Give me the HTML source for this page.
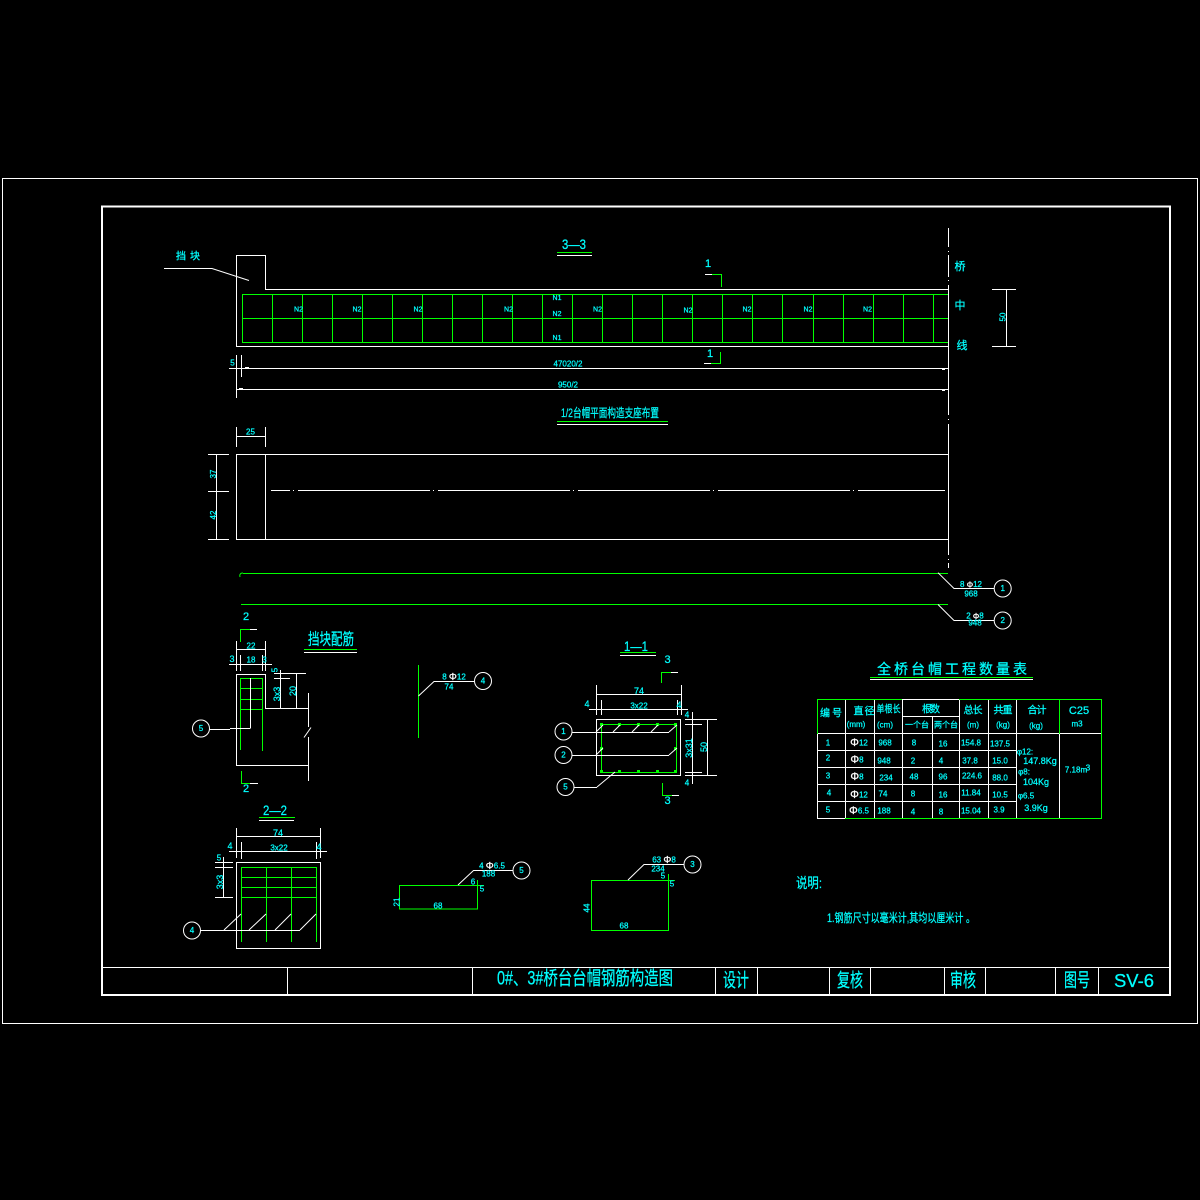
<!DOCTYPE html>
<html lang="zh">
<head>
<meta charset="utf-8">
<title>0#、3#桥台台帽钢筋构造图</title>
<style>
html,body{margin:0;padding:0;background:#000;width:1200px;height:1200px;overflow:hidden}
svg{display:block}
.w{fill:none;stroke:#fff;stroke-width:1;shape-rendering:crispEdges}
.w2{fill:none;stroke:#fff;stroke-width:2;shape-rendering:crispEdges}
.d{fill:none;stroke:#fff;stroke-width:1}
.g{fill:none;stroke:#0f0;stroke-width:1;shape-rendering:crispEdges}
.gd{fill:#0f0;stroke:none}
text{fill:#0ff;stroke:#0ff;stroke-width:.25;font-family:"Liberation Sans","WenQuanYi Zen Hei","Noto Sans CJK SC",sans-serif;text-anchor:middle;dominant-baseline:central}
.t6{font-size:6px}.t7{font-size:7px}.t8{font-size:8px}.t9{font-size:9px}.t10{font-size:10px}.t11{font-size:11px}.t12{font-size:12px}.t13{font-size:13px}.t14{font-size:14px}.t15{font-size:15px}.t16{font-size:16px}.t18{font-size:18px}.t19{font-size:19px}
.phi{fill:#fff;stroke:#fff}
</style>
</head>
<body>
<svg width="1200" height="1200" viewBox="0 0 1200 1200" xmlns="http://www.w3.org/2000/svg">
<rect width="1200" height="1200" fill="#000"/>

<!-- frames -->
<rect class="w" x="2.500" y="178.500" width="1195" height="845"/>
<rect class="w2" x="102" y="206.500" width="1068" height="788.500"/>
<path class="w" d="M102 967.500H1170M287.500 967V995M472.500 967V995M715.500 967V995M757.500 967V995M829.500 967V995M870.500 967V995M944.500 967V995M985.500 967V995M1055.500 967V995M1098.500 967V995"/>
<text class="t19" x="585" y="979" textLength="176" lengthAdjust="spacingAndGlyphs">0#、3#桥台台帽钢筋构造图</text>
<text class="t19" x="736" y="981" textLength="26" lengthAdjust="spacingAndGlyphs">设计</text>
<text class="t19" x="850" y="981" textLength="26" lengthAdjust="spacingAndGlyphs">复核</text>
<text class="t19" x="963" y="981" textLength="26" lengthAdjust="spacingAndGlyphs">审核</text>
<text class="t19" x="1077" y="981" textLength="26" lengthAdjust="spacingAndGlyphs">图号</text>
<text class="t18" x="1134" y="981" textLength="40" lengthAdjust="spacingAndGlyphs">SV-6</text>

<!-- top elevation -->
<text class="t10" x="188" y="257" textLength="24">挡 块</text>
<path class="d" d="M164 268.500H212L249 280.500"/>
<path class="w" d="M236.500 255V346M236 255.500H266M265.500 255V289M265 289.500H948M236 346.500H948"/>
<text class="t14" x="574" y="244" textLength="24" lengthAdjust="spacingAndGlyphs">3—3</text>
<path class="g" d="M557 252.500H592"/><path class="w" d="M557 255.500H592"/>

<path class="g" d="M242.500 294.500H948M242.500 318.500H948M242 342.500H948M242.500 294V343M272.500 294V343M302.500 294V343M332.500 294V343M362.500 294V343M392.500 294V343M422.500 294V343M452.500 294V343M482.500 294V343M512.500 294V343M542.500 294V343M572.500 294V343M602.500 294V343M632.500 294V343M662.500 294V343M692.500 294V343M722.500 294V343M752.500 294V343M782.500 294V343M813.500 294V343M843.500 294V343M873.500 294V343M903.500 294V343M933.500 294V343"/>
<g class="t7">
<text x="298.500" y="310">N2</text><text x="357" y="310">N2</text><text x="418" y="310">N2</text><text x="508.500" y="310">N2</text><text x="597.500" y="310">N2</text><text x="688" y="311">N2</text><text x="747" y="310">N2</text><text x="808" y="310">N2</text><text x="867.500" y="310">N2</text>
<text x="557" y="298.500">N1</text><text x="557" y="314.500">N2</text><text x="557" y="338.500">N1</text>
</g>

<text class="t11" x="708" y="264">1</text>
<path class="g" d="M710 274.500H721.500V287"/><path class="w" d="M705 274.500H712"/>
<text class="t11" x="710" y="354">1</text>
<path class="g" d="M720.500 352V363.500H711"/><path class="w" d="M704 363.500H711"/>

<!-- center line -->
<path class="w" d="M948.500 228V247M948.500 251V252M948.500 255V277M948.500 280V281M948.500 285V415M948.500 419V420M948.500 424V555M948.500 559V560M948.500 563V568"/>
<text class="t11" x="960" y="267">桥</text>
<text class="t11" x="960" y="306">中</text>
<text class="t11" x="962" y="346">线</text>
<path class="w" d="M992 289.500H1016M992 346.500H1016M1006.500 289V346"/>
<text class="t8" transform="translate(1003 317) rotate(-90)">50</text>

<!-- dims under elevation -->
<path class="w" d="M236.500 355V398M241.500 355V377M229 368.500H948M236 389.500H948M245 367.500H249M239 388.500H243M942 369.500H945M942 390.500H945"/>
<text class="t8" x="232.500" y="363">5</text>
<text class="t8" x="568" y="364">47020/2</text>
<text class="t8" x="568" y="385">950/2</text>

<text class="t12" x="610" y="413" textLength="98" lengthAdjust="spacingAndGlyphs">1/2台帽平面构造支座布置</text>
<path class="g" d="M557 421.500H668"/><path class="w" d="M557 424.500H668"/>

<!-- plan -->
<path class="w" d="M236.500 427V447M265.500 427V447M236 436.500H266"/>
<text class="t8" x="250.500" y="432">25</text>
<path class="w" d="M236 454.500H948M236 539.500H948M236.500 454V540M265.500 454V540M208 454.500H229M208 491.500H229M208 539.500H229M216.500 454V540"/>
<path class="w" d="M271 490.500H290M293 490.500H294M298 490.500H430M433 490.500H434M438 490.500H570M573 490.500H574M578 490.500H710M713 490.500H714M718 490.500H850M853 490.500H854M858 490.500H945"/>
<text class="t8" transform="translate(213.500 474) rotate(-90)">37</text>
<text class="t8" transform="translate(213.500 515) rotate(-90)">42</text>

<!-- long bars -->
<path class="g" d="M243 573.500H948M241 604.500H948"/>
<path d="M243 573Q239 573 240 577" fill="none" stroke="#0f0"/>
<path class="d" d="M938 572.700L954 588.500H994M938 604.500L954 620.500H994"/>
<circle class="d" cx="1002.700" cy="588.500" r="8.500"/>
<circle class="d" cx="1002.700" cy="620.500" r="8.500"/>
<text class="t8" x="1002.700" y="588.500">1</text>
<text class="t8" x="1002.700" y="620.500">2</text>
<text class="t8" x="971" y="584.500">8 <tspan class="phi">Φ</tspan>12</text>
<text class="t8" x="971" y="594">968</text>
<text class="t8" x="975" y="616">2 <tspan class="phi">Φ</tspan>8</text>
<text class="t8" x="975" y="623">948</text>

<!-- stop block detail -->
<text class="t11" x="246" y="617">2</text>
<path class="g" d="M240.500 642V629.500H254"/><path class="w" d="M250 629.500H257"/>
<path class="w" d="M236.500 641V671M265.500 641V671M236 649.500H266M240.500 655V671M262.500 655V671M229 664.500H272"/>
<text class="t8" x="251" y="646">22</text>
<text class="t9" x="232" y="659">3</text>
<text class="t8" x="251" y="660">18</text>
<text class="t8" x="264.500" y="660">3</text>
<path class="w" d="M236.500 674V765M236 674.500H265.500M265.500 674V709M265 708.500H308M308.500 693V727M308.500 737V781M236 765.500H308"/>
<path class="d" d="M311 727.500L304 737.500"/>
<path class="g" d="M240.500 678V750M262.500 678V751M240 678.500H263M240 688.500H263M240 699.500H263M240 709.500H263"/>
<path class="w" d="M250.500 678V728M230 728.500H250.500M209 729.500H230"/>
<circle class="d" cx="201" cy="728.500" r="8.500"/>
<text class="t8" x="201" y="728.500">5</text>
<path class="w" d="M280.500 670V709M296.500 673V709M274 673.500H306M274 678.500H290M274 708.500H290"/>
<text class="t8" transform="translate(275 670) rotate(-90)">5</text>
<text class="t9" transform="translate(277 694) rotate(-90)">3x3</text>
<text class="t9" transform="translate(293 691) rotate(-90)">20</text>
<text class="t16" x="331" y="640" textLength="46" lengthAdjust="spacingAndGlyphs">挡块配筋</text>
<path class="g" d="M304 649.500H357"/><path class="w" d="M304 652.500H357"/>
<text class="t11" x="246" y="789">2</text>
<path class="g" d="M241.500 771V783.500H254"/><path class="w" d="M250 783.500H258"/>

<!-- section 2-2 -->
<text class="t14" x="275" y="810" textLength="24" lengthAdjust="spacingAndGlyphs">2—2</text>
<path class="g" d="M259 817.500H295"/><path class="w" d="M259 820.500H294"/>
<path class="w" d="M236.500 828V858M320.500 828V858M236 836.500H321M241.500 842V859M316.500 842V859M229 851.500H327"/>
<text class="t9" x="278" y="833">74</text>
<text class="t8" x="279" y="848">3x22</text>
<text class="t9" x="230" y="846">4</text>
<text class="t9" x="319" y="847">4</text>
<rect class="w" x="236.500" y="862.500" width="84" height="86"/>
<path class="g" d="M241.500 867V942M266.500 867V942M291.500 867V942M316.500 867V942M241 867.500H317M241 877.500H317M241 887.500H317M241 897.500H317"/>
<path class="w" d="M223.500 857V897M215 862.500H233M215 867.500H233M215 897.500H233M200 930.500H300"/>
<path class="d" d="M224 930L241 914M249 930L266 914M275 930L291 914M300 930L316 914"/>
<text class="t8" x="219" y="858">5</text>
<text class="t9" transform="translate(220 882) rotate(-90)">3x3</text>
<circle class="d" cx="192" cy="930.500" r="8.500"/>
<text class="t8" x="192" y="930.500">4</text>

<!-- section 1-1 -->
<text class="t14" x="636" y="646" textLength="24" lengthAdjust="spacingAndGlyphs">1—1</text>
<path class="g" d="M620 652.500H656"/><path class="w" d="M620 655.500H656"/>
<text class="t11" x="667.500" y="660">3</text>
<path class="g" d="M661.500 683V672.500H674"/><path class="w" d="M671 672.500H678"/>
<path class="w" d="M596.500 685V715M681.500 685V715M596 694.500H682M601.500 700V715M677.500 700V715M589 709.500H688"/>
<text class="t9" x="639" y="691">74</text>
<text class="t8" x="639" y="706">3x22</text>
<text class="t9" x="587" y="704">4</text>
<text class="t9" x="679" y="705">4</text>
<rect class="w" x="596.500" y="719.500" width="84" height="56"/>
<rect class="g" x="601.500" y="724.500" width="75" height="48"/>
<g class="gd">
<rect x="600" y="723" width="3" height="3"/><rect x="618" y="723" width="3" height="3"/><rect x="637" y="723" width="3" height="3"/><rect x="656" y="723" width="3" height="3"/><rect x="674" y="723" width="3" height="3"/>
<rect x="600" y="747" width="3" height="3"/><rect x="674" y="747" width="3" height="3"/>
<rect x="600" y="770" width="3" height="3"/><rect x="618" y="770" width="3" height="3"/><rect x="637" y="770" width="3" height="3"/><rect x="656" y="770" width="3" height="3"/><rect x="674" y="770" width="3" height="3"/>
</g>
<path class="w" d="M692.500 712V784M685 719.500H717M685 724.500H702M685 772.500H702M685 775.500H717M707.500 720V775"/>
<text class="t9" transform="translate(689 748) rotate(-90)">3x31</text>
<text class="t9" transform="translate(704 747) rotate(-90)">50</text>
<text class="t8" x="687" y="715">4</text>
<text class="t8" x="687" y="783">4</text>
<path class="w" d="M572 732.500H669M572 755.500H669M574 787.500H597"/>
<path class="d" d="M596 732L603 725M613 732L620 725M632 732L639 725M651 732L658 725M669 732L677 725M596 755L603 748M669 755L677 748M597 787L615 772"/>
<circle class="d" cx="563.500" cy="731.500" r="8.500"/>
<circle class="d" cx="563.500" cy="755" r="8.500"/>
<circle class="d" cx="565.500" cy="787" r="8.500"/>
<text class="t8" x="563.500" y="731.500">1</text>
<text class="t8" x="563.500" y="755">2</text>
<text class="t8" x="565.500" y="787">5</text>
<text class="t11" x="667.500" y="801">3</text>
<path class="g" d="M662.500 783V795.500H675"/><path class="w" d="M672 795.500H679"/>

<!-- bar 4 -->
<path class="g" d="M418.500 665V738"/>
<path class="d" d="M418.500 696L434 681.500H474"/>
<circle class="d" cx="483" cy="681" r="8.500"/>
<text class="t8" x="483" y="681">4</text>
<text class="t8" x="454" y="677">8 <tspan class="phi" font-size="10">Φ</tspan>12</text>
<text class="t8" x="449" y="687">74</text>

<!-- bar 5 shape -->
<path class="g" d="M477.500 880V909H399.500V885.500H484"/>
<path class="d" d="M458 885L473.500 870.500H513"/>
<circle class="d" cx="521.500" cy="870.500" r="8.500"/>
<text class="t8" x="521.500" y="870.500">5</text>
<text class="t8" x="492" y="866">4 <tspan class="phi" font-size="10">Φ</tspan>6.5</text>
<text class="t8" x="488.500" y="874">188</text>
<text class="t8" x="473" y="882">6</text>
<text class="t8" x="482" y="889">5</text>
<text class="t8" transform="translate(397 902) rotate(-90)">21</text>
<text class="t8" x="438" y="906">68</text>

<!-- bar 3 shape -->
<path class="g" d="M668.500 874V930.500H591.500V880.500H675"/>
<path class="d" d="M628 880L644 864.500H684"/>
<circle class="d" cx="692.500" cy="864.500" r="8.500"/>
<text class="t8" x="692.500" y="864.500">3</text>
<text class="t8" x="664" y="860">63 <tspan class="phi" font-size="10">Φ</tspan>8</text>
<text class="t8" x="658" y="869">234</text>
<text class="t8" x="663" y="876">5</text>
<text class="t8" x="672" y="884">5</text>
<text class="t8" transform="translate(587 908) rotate(-90)">44</text>
<text class="t8" x="624" y="926">68</text>

<!-- table -->
<text class="t14" x="952" y="669" textLength="150">全桥台帽工程数量表</text>
<path class="g" d="M870 677.500H1033"/><path class="w" d="M870 679.500H1033"/>
<path class="w" d="M817 733.500H1101M817 750.500H1016M817 767.500H1016M817 784.500H1016M817 801.500H1016M817 818.500H845M902 716.500H959M845.500 700V818M874.500 700V818M902.500 700V818M932.500 717V818M959.500 700V818M988.500 700V818M1016.500 700V818M1059.500 734V818M817.500 734V818"/>
<path class="w" d="M902 699.500H959"/>
<path class="g" d="M817 699.500H902M959 699.500H1102M1101.500 699V819M845 818.500H1102M817.500 699V734M1059.500 699V734"/>
<g class="t10">
<text x="831" y="714" textLength="22">编 号</text>
<text x="864" y="712" textLength="21">直径</text>
<text x="888.500" y="710" textLength="24" lengthAdjust="spacingAndGlyphs">单根长</text>
<text x="931" y="710" textLength="18">根数</text>
<text x="973" y="711" textLength="19">总长</text>
<text x="1003" y="711" textLength="19">共重</text>
<text x="1037" y="711" textLength="19">合计</text>
</g>
<text class="t11" x="1079" y="711">C25</text>
<g class="t8">
<text x="856" y="724.500">(mm)</text><text x="885" y="725">(cm)</text>
<text x="917" y="725" textLength="24" lengthAdjust="spacingAndGlyphs">一个台</text><text x="946" y="725" textLength="24" lengthAdjust="spacingAndGlyphs">两个台</text>
<text x="973" y="725">(m)</text><text x="1003" y="725">(kg)</text><text x="1036" y="726">(kg)</text><text x="1077" y="724">m3</text>
<text x="828" y="743">1</text><text x="859" y="743"><tspan class="phi" font-size="11">Φ</tspan>12</text><text x="885" y="743">968</text><text x="914" y="743">8</text><text x="943" y="744">16</text><text x="971" y="743">154.8</text><text x="1000" y="744">137.5</text>
<text x="828" y="758">2</text><text x="857" y="760"><tspan class="phi" font-size="11">Φ</tspan>8</text><text x="884" y="761">948</text><text x="913" y="761">2</text><text x="941" y="761">4</text><text x="970" y="761">37.8</text><text x="1000" y="761">15.0</text>
<text x="828" y="776">3</text><text x="857" y="777"><tspan class="phi" font-size="11">Φ</tspan>8</text><text x="886" y="778">234</text><text x="914" y="777">48</text><text x="943" y="777">96</text><text x="972" y="776">224.6</text><text x="1000" y="778">88.0</text>
<text x="829" y="793">4</text><text x="859" y="795"><tspan class="phi" font-size="11">Φ</tspan>12</text><text x="883" y="794">74</text><text x="913" y="794">8</text><text x="943" y="795">16</text><text x="971" y="793">11.84</text><text x="1000" y="795">10.5</text>
<text x="828" y="810">5</text><text x="859" y="811"><tspan class="phi" font-size="11">Φ</tspan>6.5</text><text x="884" y="811">188</text><text x="913" y="812">4</text><text x="941" y="812">8</text><text x="971" y="811">15.04</text><text x="999" y="810">3.9</text>
<text x="1025" y="752">φ12:</text><text x="1024" y="772">φ8:</text><text x="1026" y="796">φ6.5</text>
<text x="1076" y="770">7.18m</text>
<text x="1088" y="768">3</text>
</g>
<g class="t9">
<text x="1040" y="761">147.8Kg</text><text x="1036" y="782">104Kg</text><text x="1036" y="808">3.9Kg</text>
</g>

<!-- notes -->
<text class="t14" x="809" y="883" textLength="26" lengthAdjust="spacingAndGlyphs">说明:</text>
<text class="t12" x="901" y="918" textLength="148" lengthAdjust="spacingAndGlyphs">1.钢筋尺寸以毫米计,其均以厘米计 。</text>
</svg>
</body>
</html>
